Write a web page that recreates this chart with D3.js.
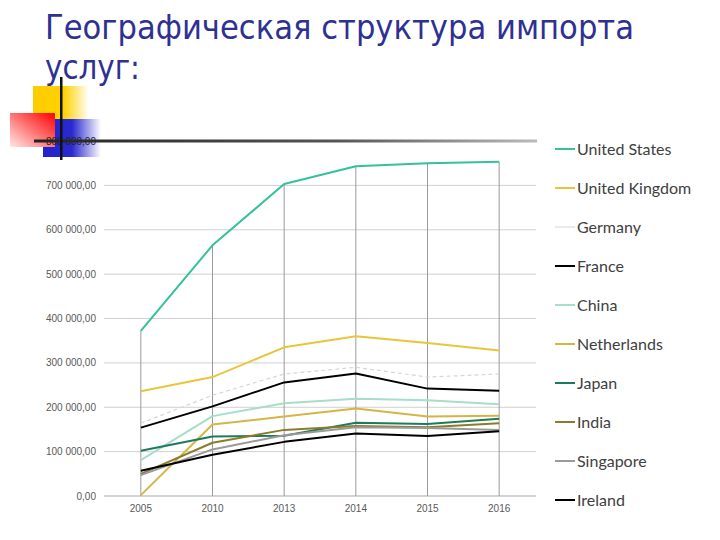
<!DOCTYPE html>
<html><head><meta charset="utf-8">
<script src="https://cdn.jsdelivr.net/npm/d3@7"></script>
<style>body{margin:0;background:#fff}svg{display:block}</style>
</head><body><svg id="c" width="720" height="540"></svg>
<script>
const years = ["2005","2010","2013","2014","2015","2016"];
const yTicks = [0,100000,200000,300000,400000,500000,600000,700000,800000];
const seriesNames = ["United States","United Kingdom","Germany","France","China","Netherlands","Japan","India","Singapore","Ireland"];
const unitedStates = [372000,565000,703000,743000,750000,753000];
const unitedKingdom = [236000,268000,335000,360000,345000,328000];
const germany = [164000,227000,275000,290000,268000,275000];
const france = [154000,202000,256000,276000,242000,237000];
const china = [81000,180000,209000,219000,216000,207000];
const netherlands = [2000,161000,179000,197000,179000,181000];
const japan = [102000,134000,136000,165000,162000,174000];
const india = [50000,120000,149000,158000,155000,164000];
const singapore = [47000,105000,137000,155000,153000,149000];
const ireland = [57000,93000,122000,141000,135000,146000];
const seriesValues = [unitedStates,unitedKingdom,germany,france,china,netherlands,japan,india,singapore,ireland];
const colors = ["#33c29a","#e8c53a","#d6d6d6","#000000","#a6dec8","#d6b547","#1d7a5a","#8c7c2a","#9a9a9a","#000000"];
const dashes = [null,null,"4,3",null,null,null,null,null,null,null];
const widths = [2,2,1.2,2,2,2,2,2,2,2];
const titleLines = ["Географическая структура импорта","услуг:"];

const svg = d3.select("#c");
const defs = svg.append("defs");
const gy = defs.append("linearGradient").attr("id","gYel");
gy.append("stop").attr("offset","0").attr("stop-color","#ffcc00");
gy.append("stop").attr("offset","0.55").attr("stop-color","#ffd200");
gy.append("stop").attr("offset","1").attr("stop-color","#ffffff");
const gr = defs.append("linearGradient").attr("id","gRed").attr("x1","1").attr("y1","0").attr("x2","0").attr("y2","1");
gr.append("stop").attr("offset","0").attr("stop-color","#ff0000");
gr.append("stop").attr("offset","1").attr("stop-color","#ffe8e8");
const gb = defs.append("linearGradient").attr("id","gBlue");
gb.append("stop").attr("offset","0").attr("stop-color","#2222cc");
gb.append("stop").attr("offset","0.5").attr("stop-color","#2a2ad0");
gb.append("stop").attr("offset","1").attr("stop-color","#ffffff");
const gl = defs.append("linearGradient").attr("id","gLine");
gl.append("stop").attr("offset","0").attr("stop-color","#222");
gl.append("stop").attr("offset","0.6").attr("stop-color","#555");
gl.append("stop").attr("offset","1").attr("stop-color","#bbb");

// title
svg.selectAll("text.title").data(titleLines).enter().append("text")
  .attr("x",45).attr("y",(d,i)=>39+i*40)
  .attr("font-family","DejaVu Sans, Verdana, sans-serif").attr("font-size",34)
  .attr("fill","#2e3192")
  .attr("textLength",(d,i)=>i===0?589:95).attr("lengthAdjust","spacingAndGlyphs")
  .text(d=>d);

// decoration
svg.append("rect").attr("x",33).attr("y",86).attr("width",56).attr("height",34).attr("fill","url(#gYel)");
svg.append("rect").attr("x",43).attr("y",119).attr("width",58).attr("height",38).attr("fill","url(#gBlue)");
svg.append("rect").attr("x",10).attr("y",113).attr("width",45).attr("height",34).attr("fill","url(#gRed)");

const x = d3.scaleBand().domain(years).range([105,535]).padding(0);
const xc = d => x(d) + x.bandwidth()/2;
const y = d3.scaleLinear().domain([0,800000]).range([496,141]);

// gridlines
svg.append("g").selectAll("line").data(yTicks).enter().append("line")
  .attr("x1",104).attr("x2",536).attr("y1",d=>y(d)).attr("y2",d=>y(d))
  .attr("stroke","#d0d0d0").attr("stroke-width",1);

// y labels
const fmt = v => d3.format(",")(v).replace(/,/g," ") + ",00";
svg.append("g").selectAll("text").data(yTicks).enter().append("text")
  .attr("x",96).attr("y",d=>y(d)).attr("dy","0.35em").attr("text-anchor","end")
  .attr("font-family","Liberation Sans, Arial, sans-serif").attr("font-size",10)
  .attr("fill",d=>d===800000?"#222":"#595959").text(d=>fmt(d));

// x axis
svg.append("line").attr("x1",104).attr("x2",536).attr("y1",y(0)).attr("y2",y(0)).attr("stroke","#bfbfbf");
svg.append("g").selectAll("text").data(years).enter().append("text")
  .attr("x",d=>xc(d)).attr("y",508).attr("dy","0.35em").attr("text-anchor","middle")
  .attr("font-family","Liberation Sans, Arial, sans-serif").attr("font-size",10)
  .attr("fill","#595959").text(d=>d);

// drop lines
svg.append("g").selectAll("line").data(years).enter().append("line")
  .attr("x1",d=>xc(d)).attr("x2",d=>xc(d)).attr("y1",y(0))
  .attr("y2",(d,i)=>y(d3.max(seriesValues,s=>s[i])))
  .attr("stroke","#9a9a9a").attr("stroke-width",1);

// template line & vertical bar
svg.append("rect").attr("x",34).attr("y",139.5).attr("width",503).attr("height",3).attr("fill","url(#gLine)");
svg.append("rect").attr("x",60).attr("y",77).attr("width",2.5).attr("height",83).attr("fill","#111");

// series
const line = d3.line().x((d,i)=>xc(years[i])).y(d=>y(d));
svg.append("g").selectAll("path").data(seriesValues).enter().append("path")
  .attr("d",d=>line(d)).attr("fill","none")
  .attr("stroke",(d,i)=>colors[i]).attr("stroke-width",(d,i)=>widths[i])
  .attr("stroke-dasharray",(d,i)=>dashes[i]).attr("stroke-linejoin","round");

// legend
const lg = svg.append("g").selectAll("g").data(seriesNames).enter().append("g")
  .attr("transform",(d,i)=>`translate(555,${149+i*39})`);
lg.append("line").attr("x1",0).attr("x2",20).attr("y1",0).attr("y2",0)
  .attr("stroke",(d,i)=>colors[i]).attr("stroke-width",(d,i)=>i===2?1:2);
lg.append("text").attr("x",22).attr("y",0).attr("dy","0.35em")
  .attr("font-family","Lato, Carlito, sans-serif").attr("font-size",16)
  .attr("fill","#404040").text(d=>d);
</script></body></html>
